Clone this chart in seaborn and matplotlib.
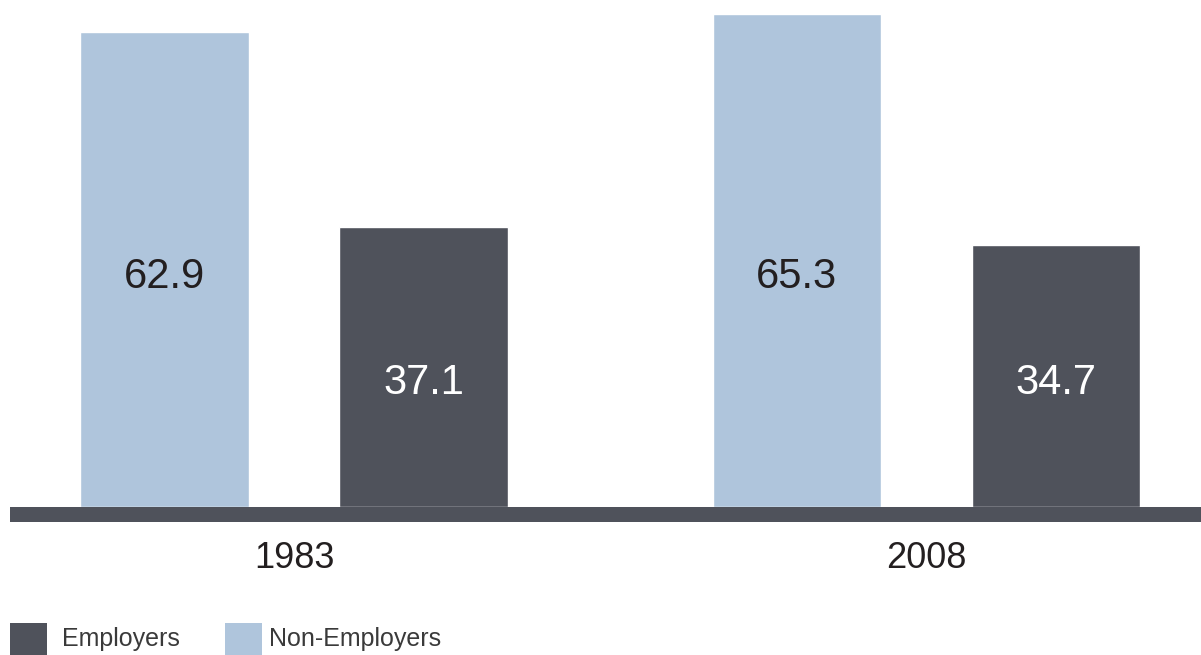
import matplotlib
matplotlib.use("Agg")
import matplotlib.pyplot as plt
import seaborn as sns
import pandas as pd
from matplotlib.patches import Rectangle

# Share of businesses (%) by type
years = ["1983", "2008"]
non_employers = [62.9, 65.3]
employers = [37.1, 34.7]
series_names = ["Non-Employers", "Employers"]

df = pd.DataFrame({
    "year": years * 2,
    "type": [series_names[0]] * len(years) + [series_names[1]] * len(years),
    "share": non_employers + employers,
})

LIGHT = "#afc5dc"
DARK = "#4f525b"
TEXT = "#231f20"
palette = {"Non-Employers": LIGHT, "Employers": DARK}

sns.set_style("white")
plt.rcParams["font.family"] = ["Liberation Sans", "DejaVu Sans"]

W, H, DPI = 1201, 655, 100
fig = plt.figure(figsize=(W / DPI, H / DPI), dpi=DPI)

# axes occupies x 10..1201 px, y 0..522 px (from top)
ax = fig.add_axes([10 / W, 1 - 522 / H, 1191 / W, 522 / H])

sns.barplot(data=df, x="year", y="share", hue="type", hue_order=series_names,
            palette=palette, width=0.82, gap=0.35, saturation=1,
            legend=False, ax=ax, zorder=2)

px_per_unit = 7.55
ax.set_ylim(-15 / px_per_unit, 507 / px_per_unit)
unit = 632.5
ax.set_xlim(-284 / unit, 907 / unit)

# thick baseline under the bars
ax.axhspan(ax.get_ylim()[0], 0, color=DARK, lw=0, zorder=3)

for s in ax.spines.values():
    s.set_visible(False)
ax.set_yticks([])
ax.set_xlabel("")
ax.set_ylabel("")
ax.tick_params(axis="x", length=0, pad=14, labelsize=26, labelcolor=TEXT)

# value labels inside the bars, sharing one baseline per series
label_base = {"Non-Employers": 29.0, "Employers": 15.0}
label_color = {"Non-Employers": TEXT, "Employers": "white"}
for container, name in zip(ax.containers, series_names):
    for bar in container:
        val = bar.get_height()
        ax.text(bar.get_x() + bar.get_width() / 2, label_base[name], f"{val:.1f}",
                ha="center", va="baseline", fontsize=30,
                color=label_color[name], zorder=4)

# legend: colour squares with text
legend_items = [("Employers", DARK, 10, 62), ("Non-Employers", LIGHT, 225, 269)]
for name, color, sx, tx in legend_items:
    fig.add_artist(Rectangle((sx / W, 0), 37 / W, (655 - 623) / H,
                             transform=fig.transFigure, color=color, lw=0))
    fig.text(tx / W, 1 - 646 / H, name, ha="left", va="baseline",
             fontsize=18, color="#3a3a3a")

fig.savefig("out.png", dpi=DPI)
